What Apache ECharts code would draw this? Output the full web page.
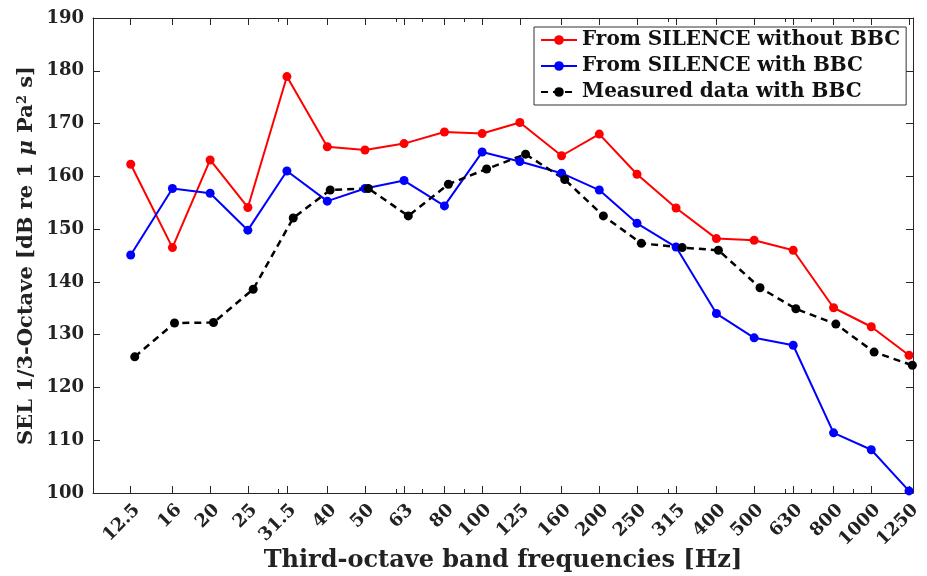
<!DOCTYPE html>
<html>
<head>
<meta charset="utf-8">
<script src="https://cdn.jsdelivr.net/npm/echarts@6/dist/echarts.min.js"></script>
<style>
  html, body { margin: 0; padding: 0; background: #fff; }
  #chart { width: 927px; height: 576px; }
</style>
</head>
<body>
<div id="chart"></div>
<script>
// Third-octave band centre frequencies (Hz) and their tick labels
const bandFreqs = [12.5, 16, 20, 25, 31.5, 40, 50, 63, 80, 100, 125, 160, 200, 250, 315, 400, 500, 630, 800, 1000, 1250];
const bandLabels = ['12.5', '16', '20', '25', '31.5', '40', '50', '63', '80', '100', '125', '160', '200', '250', '315', '400', '500', '630', '800', '1000', '1250'];
// Log-axis minor ticks that do not coincide with a band tick
const minorTickFreqs = [30, 60, 70, 90, 300, 600, 700, 900];
// Frequencies at which the measured spectrum is sampled
const measuredFreqs = [12.8, 16.2, 20.4, 25.8, 32.7, 40.7, 51.0, 64.6, 81.9, 102.7, 129.3, 163, 204.9, 256.5, 326.7, 404.7, 517.7, 640, 810.8, 1017, 1275];

// SEL per third-octave band, dB re 1 uPa^2 s
const silenceNoBBC = [162.3, 146.5, 163.1, 154.1, 178.9, 165.6, 165.0, 166.2, 168.4, 168.1, 170.2, 163.9, 168.0, 160.4, 154.0, 148.2, 147.9, 146.0, 135.1, 131.5, 126.1];
const silenceBBC = [145.1, 157.7, 156.8, 149.8, 161.0, 155.3, 157.7, 159.2, 154.4, 164.6, 162.8, 160.6, 157.4, 151.1, 146.6, 134.0, 129.4, 128.0, 111.4, 108.2, 100.4];
const measuredBBC = [125.8, 132.2, 132.3, 138.6, 152.1, 157.4, 157.7, 152.5, 158.5, 161.4, 164.2, 159.4, 152.5, 147.3, 146.5, 146.0, 138.9, 134.9, 132.0, 126.7, 124.2];

const yTicks = [100, 110, 120, 130, 140, 150, 160, 170, 180, 190];

const FONT = 'DejaVu Serif';
const AXIS_COLOR = '#262626';
const X_MIN = 10, X_MAX = 1280;

function pair(xs, ys) { return xs.map((x, i) => [x, ys[i]]); }

function bandLabelFor(v) {
  let best = 0, bestD = Infinity;
  bandFreqs.forEach((f, i) => {
    const d = Math.abs(Math.log(v / f));
    if (d < bestD) { bestD = d; best = i; }
  });
  return bandLabels[best];
}

function logAxis(position, tickValues, tickLen, showLine, showLabels) {
  return {
    type: 'log',
    logBase: 10,
    min: X_MIN,
    max: X_MAX,
    position: position,
    gridIndex: 0,
    axisLine: { show: showLine, onZero: false, lineStyle: { color: AXIS_COLOR, width: 1 } },
    axisTick: { show: true, inside: true, length: tickLen, customValues: tickValues, lineStyle: { color: AXIS_COLOR, width: 1 } },
    axisLabel: showLabels ? {
      show: true,
      customValues: bandFreqs,
      rotate: 45,
      margin: 8,
      verticalAlign: 'top',
      fontFamily: FONT,
      fontWeight: 'bold',
      fontSize: 18,
      color: '#222',
      formatter: bandLabelFor
    } : { show: false },
    splitLine: { show: false },
    minorTick: { show: false },
    minorSplitLine: { show: false }
  };
}

function valueAxis(position, showLabels) {
  return {
    type: 'value',
    min: yTicks[0],
    max: yTicks[yTicks.length - 1],
    interval: 10,
    position: position,
    axisLine: { show: true, onZero: false, lineStyle: { color: AXIS_COLOR, width: 1 } },
    axisTick: { show: true, inside: true, length: 7, lineStyle: { color: AXIS_COLOR, width: 1 } },
    axisLabel: showLabels ? {
      show: true, margin: 9, fontFamily: FONT, fontWeight: 'bold', fontSize: 18, color: '#222'
    } : { show: false },
    splitLine: { show: false }
  };
}

const chart = echarts.init(document.getElementById('chart'), null, { renderer: 'canvas' });

const yLeft = valueAxis('left', true);
yLeft.name = 'SEL 1/3-Octave [dB re 1 {mu|μ} Pa{sup|2} s]';
yLeft.nameLocation = 'middle';
yLeft.nameGap = 56;
yLeft.nameRotate = 90;
yLeft.nameMoveOverlap = false;
yLeft.nameTextStyle = {
  fontFamily: FONT, fontWeight: 'bold', fontSize: 21, color: '#222',
  rich: {
    mu: { fontFamily: FONT, fontStyle: 'italic', fontWeight: 'bold', fontSize: 21, color: '#222' },
    sup: { fontFamily: FONT, fontWeight: 'bold', fontSize: 13, color: '#222', verticalAlign: 'top' }
  }
};

const xBottom = logAxis('bottom', bandFreqs, 7, true, true);
xBottom.name = 'Third-octave band frequencies [Hz]';
xBottom.nameLocation = 'middle';
xBottom.nameGap = 56;
xBottom.nameMoveOverlap = false;
xBottom.nameTextStyle = { fontFamily: FONT, fontWeight: 'bold', fontSize: 24, color: '#222' };

const lineSeries = (name, xs, ys, color, dashed) => ({
  name: name,
  type: 'line',
  xAxisIndex: 0,
  yAxisIndex: 0,
  data: pair(xs, ys),
  symbol: 'circle',
  symbolSize: 9,
  showSymbol: true,
  itemStyle: { color: color },
  lineStyle: { color: color, width: dashed ? 2.5 : 2, type: dashed ? [7, 5] : 'solid' },
  emphasis: { disabled: true },
  animation: false
});

chart.setOption({
  backgroundColor: '#ffffff',
  animation: false,
  grid: { left: 93, right: 14, top: 18, bottom: 83, containLabel: false, outerBoundsMode: 'none' },
  xAxis: [
    xBottom,
    logAxis('bottom', minorTickFreqs, 4, false, false),
    logAxis('top', bandFreqs, 7, true, false),
    logAxis('top', minorTickFreqs, 4, false, false)
  ],
  yAxis: [yLeft, valueAxis('right', false)],
  legend: {
    show: true,
    selectedMode: false,
    orient: 'vertical',
    left: 534,
    top: 27,
    padding: [3, 6, 3, 6],
    itemWidth: 36,
    itemHeight: 12,
    itemGap: 6,
    backgroundColor: '#ffffff',
    borderColor: '#333333',
    borderWidth: 1,
    textStyle: { fontFamily: FONT, fontWeight: 'bold', fontSize: 20, color: '#111' },
    data: ['From SILENCE without BBC', 'From SILENCE with BBC', 'Measured data with BBC']
  },
  series: [
    lineSeries('From SILENCE without BBC', bandFreqs, silenceNoBBC, '#ff0000', false),
    lineSeries('From SILENCE with BBC', bandFreqs, silenceBBC, '#0000ff', false),
    lineSeries('Measured data with BBC', measuredFreqs, measuredBBC, '#000000', true)
  ]
});
</script>
</body>
</html>
